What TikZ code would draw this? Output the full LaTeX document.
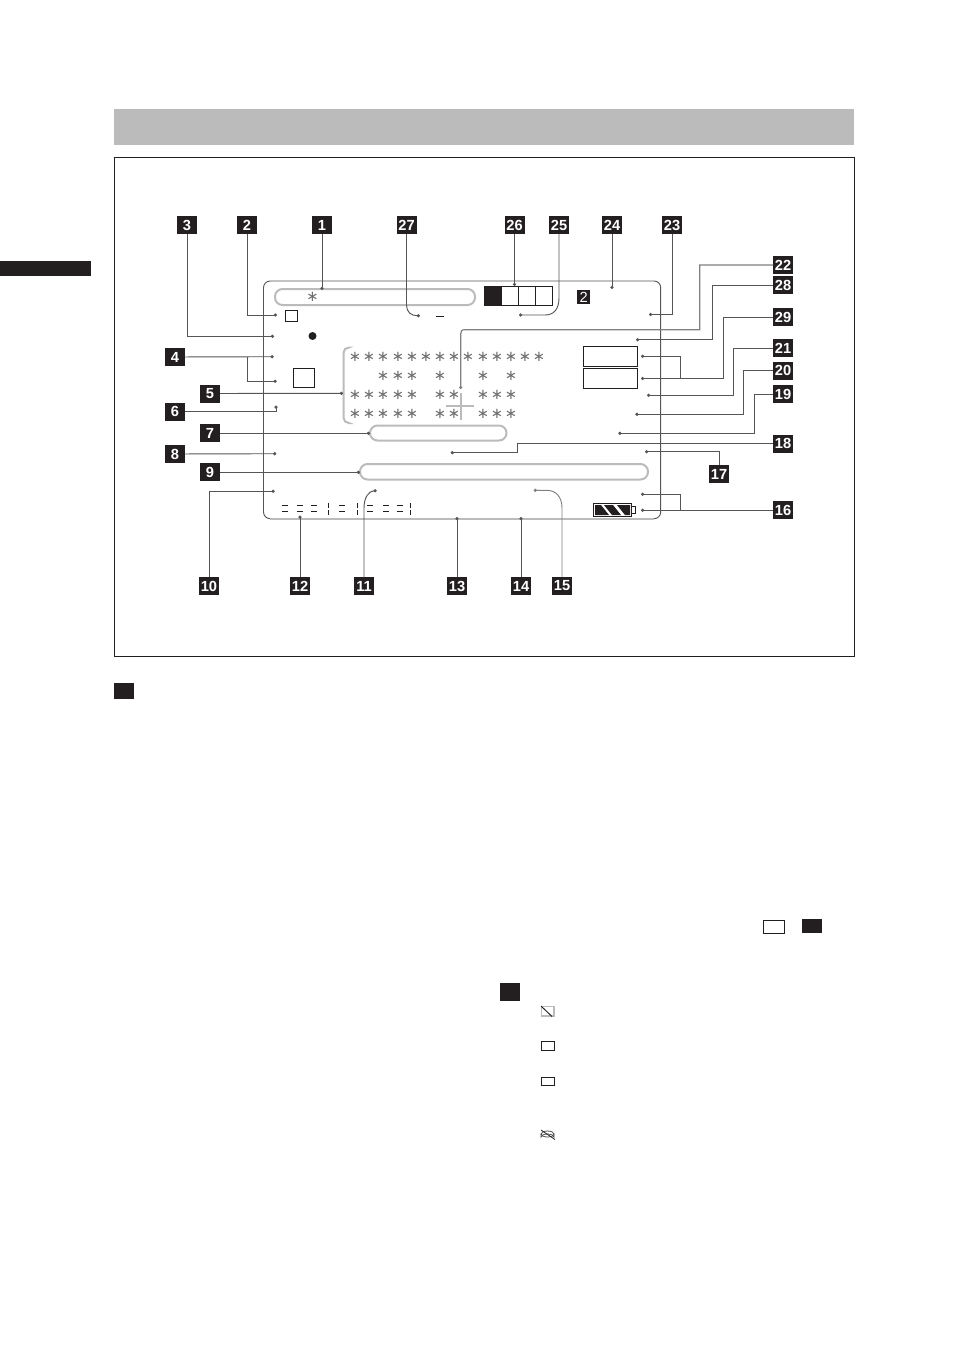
\documentclass[tikz,border=0pt]{standalone}
\usepackage{fontspec}
\setmainfont{Liberation Sans}
\newfontfamily\djv{DejaVu Sans}
\usetikzlibrary{arrows.meta}
\definecolor{ink}{HTML}{231F20}
\definecolor{ldr}{HTML}{555555}
\definecolor{pale}{HTML}{BBBBBB}
\tikzset{
  lab/.style={fill=ink,text=white,font=\fontsize{11}{11}\selectfont\bfseries,minimum width=15pt,minimum height=13.5pt,inner sep=0pt,outer sep=0pt},
  ldn/.style={draw=ldr,line width=0.7pt,-{Circle[length=2.4pt,width=2.4pt]},rounded corners=0pt},
  pill/.style={draw=pale,line width=1.5pt,rounded corners=5.6pt},
  thin box/.style={draw=ink,line width=0.7pt},
  star/.style={font=\djv\fontsize{11}{11}\selectfont,text=ink!65,inner sep=0pt,outer sep=0pt},
  dash seg/.style={draw=ink,line width=0.7pt},
}
\begin{document}
\begin{tikzpicture}[x=0.75pt,y=-0.75pt]
\useasboundingbox (0,0) rectangle (954,1350);
% page furniture
\fill[pale] (114,109) rectangle (854,145);
\fill[ink] (0,261) rectangle (91,276);
\draw[ink,line width=0.65pt] (114,157) rectangle (854,656);
\fill[ink] (114,683) rectangle (134,699);
\fill[ink] (500,983) rectangle (520,1001);
\draw[thin box] (763.3,920.3) rectangle (784.7,933.7);
\fill[ink] (802,919) rectangle (822,933);
% screen outline
\draw[ldr,line width=0.7pt,rounded corners=5pt] (270,518.7) -- (263.5,518.7) -- (263.5,281) -- (660.7,281) -- (660.7,518.7) -- (654,518.7);
\draw[pale,line width=1.5pt] (270,518.7) -- (654,518.7);
% pills
\draw[pill] (275,289) rectangle (475,305);
\draw[pill] (370,425.5) rectangle (506.5,440.5);
\draw[pill] (360,464) rectangle (648,479.5);
% bracket
\draw[pale,line width=1.5pt,rounded corners=4pt] (348,347.5) -- (343.5,347.5) -- (343.5,423) -- (348,423);
% cross
\draw[pale,line width=1.2pt] (446,405.7) -- (474,405.7) (460.7,393) -- (460.7,420);
% asterisks
\node[star] (s1) at (312.5,297) {∗};
\foreach \x in {355,369,383,398,412,426,440,454,468,483,497,511,525,539}
  \node[star] (ra\x) at (\x,356.5) {∗};
\foreach \x in {383,398,412,440,483,511}
  \node[star] (rb\x) at (\x,376) {∗};
\foreach \x in {355,369,383,398,412,440,454,483,497,511}{
  \node[star] (rc\x) at (\x,395) {∗};
  \node[star] (rd\x) at (\x,414) {∗};
}
% display elements
\draw[thin box] (285.3,310) rectangle (297.7,321.7);
\fill[ink] (312.5,336) circle (4);
\draw[thin box] (293.3,368.3) rectangle (314.7,387.7);
\draw[ink,line width=1pt] (436,316.8) -- (444,316.8);
\fill[ink] (484,286) rectangle (501.7,305.7);
\draw[thin box] (484,286) rectangle (552.7,305.7);
\draw[ink,line width=0.7pt] (518.3,286) -- (518.3,305.7) (535.7,286) -- (535.7,305.7);
\node[fill=ink,text=white,font=\fontsize{11}{11}\selectfont,minimum width=9.5pt,minimum height=10.5pt,inner sep=0pt] (two) at (583.7,297) {2};
\draw[thin box] (583.3,346) rectangle (637.7,366.3);
\draw[thin box] (583.3,368.3) rectangle (637.7,388.3);
% battery
\draw[thin box] (593.3,503.3) rectangle (631.7,516.7);
\draw[ink,line width=0.6pt] (631.7,506.5) rectangle (635,513.5);
\fill[ink] (595,505) -- (601,505) -- (609,515) -- (595,515) -- cycle;
\fill[ink] (604,505) -- (613,505) -- (621,515) -- (612,515) -- cycle;
\fill[ink] (617,505) -- (630,505) -- (630,515) -- (625,515) -- cycle;
% dashes
\foreach \a/\b in {281.7/288.3,296.7/302.7,310.7/317.3,339/345,367.3/373.3,383.3/389.3,396.7/402.7}
  \draw[dash seg] (\a,505.7) -- (\b,505.7) (\a,511) -- (\b,511);
\foreach \x in {328.3,357.3,410.3}
  \draw[dash seg] (\x,503) -- (\x,508) (\x,509.5) -- (\x,515);
% small icons
\draw[pale,line width=0.9pt] (541.3,1006.3) rectangle (554,1016);
\draw[ink,line width=0.7pt] (541,1006) -- (552,1016.5);
\draw[ink,line width=0.5pt] (541.3,1041.3) rectangle (554,1050.5);
\draw[ink,line width=0.5pt] (541.3,1077) rectangle (554,1085.5);
\draw[ink!80,line width=0.6pt] (547.5,1134) ellipse (6.5 and 3);
\draw[ink!80,line width=0.6pt] (541,1134) -- (541,1137) arc (180:360:6.5 and 3) -- (554,1134);
\draw[ink,line width=0.6pt] (541,1130) -- (555,1139.5);
% number labels
\foreach \n/\x/\y in {3/187/225,2/247/225,1/322/225,27/406.5/225,26/514.5/225,25/559/225,24/612/225,23/672/225,
  22/783/265,28/783/285.3,29/783/317,21/783/348,20/783/370.5,19/783/394,18/783/443.7,17/719/474,16/783/510.3,
  4/175/357,5/210/393.5,6/175/411.5,7/210/433.3,8/175/454,9/210/472.3,10/209/586,12/300/586,11/364/586,13/457/586,14/521/586,15/562/586}
  \node[lab] (n\n) at (\x,\y) {\n};
% leader ends
\coordinate (e1) at (322,290);
\coordinate (e2) at (277,315);
\coordinate (e3) at (274,336.3);
\coordinate (e4a) at (273.7,356.7);
\coordinate (e4b) at (276.7,381.3);
\coordinate (e5) at (343,393.3);
\coordinate (e6) at (276,405.5);
\coordinate (e7) at (370,433.3);
\coordinate (e8) at (276.3,453.7);
\coordinate (e9) at (360,472.3);
\coordinate (e10) at (274.7,491.3);
\coordinate (e11) at (376.7,490.7);
\coordinate (e12) at (300,515.5);
\coordinate (e13) at (457,517);
\coordinate (e14) at (521,517);
\coordinate (e15) at (533.7,490.3);
\coordinate (e16a) at (641,494.3);
\coordinate (e16b) at (641,510.3);
\coordinate (e17) at (645,451.7);
\coordinate (e18) at (450.7,452.7);
\coordinate (e19) at (618.3,433.3);
\coordinate (e20) at (635.3,414.3);
\coordinate (e21) at (647,395.3);
\coordinate (e22) at (460.7,389);
\coordinate (e23) at (649,314.5);
\coordinate (e24) at (612,289);
\coordinate (e25) at (519,315);
\coordinate (e26) at (514.5,286);
\coordinate (e27) at (420,315.7);
\coordinate (e28) at (636,339.7);
\coordinate (e29a) at (641,356.3);
\coordinate (e29b) at (641,378.5);
% leaders
\draw[ldn] (n1) -- (e1);
\draw[ldn] (n2) |- (e2);
\draw[ldn] (n3) |- (e3);
\draw[ldn] (n4) -- (e4a);
\draw[ldn] (247,357) |- (e4b);
\draw[ldn] (n5) -- (e5);
\draw[ldn] (n6) -| (e6);
\draw[ldn] (n7) -- (e7);
\draw[ldn] (n8) -- (e8);
\draw[ldn] (n9) -- (e9);
\draw[ldn] (n10) |- (e10);
\draw[ldn] (n11.north) -- (364,508) .. controls (364,497) and (369,491) .. (e11);
\draw[ldn] (n12) -- (e12);
\draw[ldn] (n13) -- (e13);
\draw[ldn] (n14) -- (e14);
\draw[ldn,draw=ldr!75] (n15.north) -- (562,508) .. controls (562,497) and (556,490.3) .. (547,490.3) -- (e15);
\draw[ldn] (n16) -- (e16b);
\draw[ldn] (680.3,510.3) |- (e16a);
\draw[ldn] (n17) |- (e17);
\draw[ldn] (n18.west) -- (517.3,443.7) |- (e18);
\draw[ldn] (n19.west) -- (754.3,394) |- (e19);
\draw[ldn] (n20.west) -- (743.7,370.5) |- (e20);
\draw[ldn] (n21.west) -- (733.7,348) |- (e21);
\draw[ldn,draw=ldr!75,line width=0.9pt] (n22.west) -- (699.7,265) -- (699.7,329.7) -- (465,329.7) .. controls (461.5,329.7) and (460.7,331) .. (460.7,334) -- (e22);
\draw[ldn] (n23) |- (e23);
\draw[ldn] (n24) -- (e24);
\draw[ldn] (n25.south) -- (559,298) .. controls (559,310) and (553,315) .. (545,315) -- (e25);
\draw[ldn] (n26) -- (e26);
\draw[ldn] (n27.south) -- (406.5,305) .. controls (406.5,312) and (411,315.7) .. (e27);
\draw[ldn] (n28.west) -- (712.3,285.3) |- (e28);
\draw[ldn] (n29.west) -- (723.3,317) |- (e29b);
\draw[ldn] (680.3,378.5) |- (e29a);
\end{tikzpicture}
\end{document}
